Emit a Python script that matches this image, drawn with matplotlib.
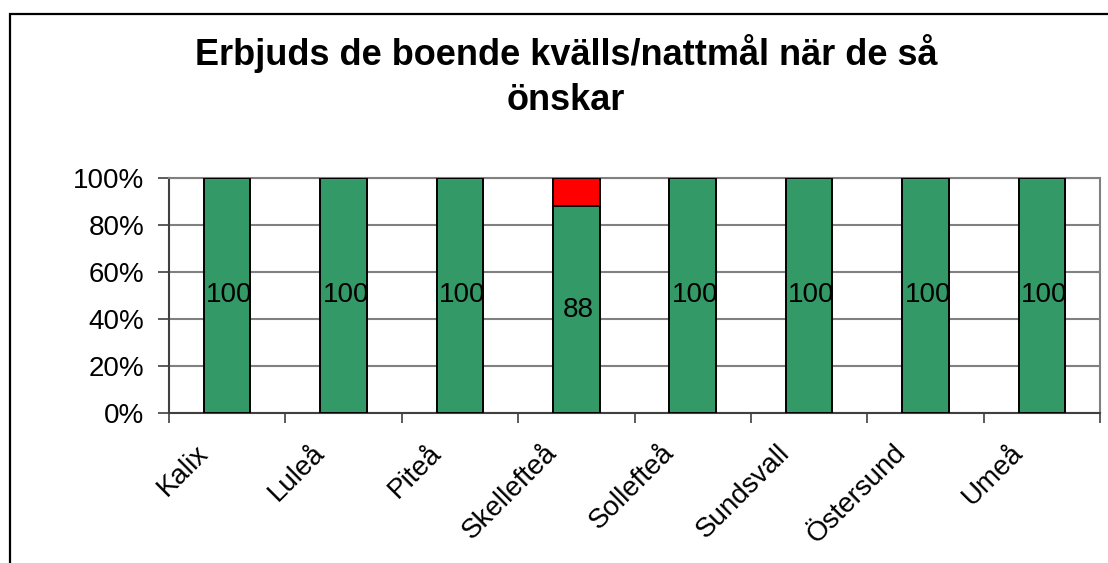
import numpy as np
import matplotlib.pyplot as plt
from matplotlib.patches import Rectangle
from matplotlib.transforms import ScaledTranslation

plt.rcParams['font.family'] = ['Liberation Sans', 'DejaVu Sans']

orter = ["Kalix", "Luleå", "Piteå", "Skellefteå", "Sollefteå", "Sundsvall", "Östersund", "Umeå"]
ja = [100, 100, 100, 88, 100, 100, 100, 100]
nej = [0, 0, 0, 12, 0, 0, 0, 0]
titel = ["Erbjuds de boende kvälls/nattmål när de så", "önskar"]

fig = plt.figure(figsize=(11.08, 5.63), dpi=100)

# ram runt hela diagrammet
fig.patches.append(Rectangle((9.5 / 1108, -0.1), 1.2, 1 - 14 / 563 + 0.1,
                             transform=fig.transFigure, fill=False,
                             edgecolor="black", linewidth=1.6))

ax = fig.add_axes([169 / 1108, 1 - 413 / 563, 931 / 1108, 235 / 563])

x = np.arange(len(orter))
ja_andel = np.array(ja) / 100
nej_andel = np.array(nej) / 100
ax.bar(x, ja_andel, width=0.4, color="#339966", edgecolor="black", linewidth=1.4, zorder=3)
ax.bar(x, nej_andel, width=0.4, bottom=ja_andel, color="#ff0000", edgecolor="black",
       linewidth=1.4, zorder=3)

for xi, v in zip(x, ja):
    ax.text(xi + 0.02, v / 200, str(v), ha="center", va="center", fontsize=20, zorder=4)

ax.set_xlim(-0.5, len(orter) - 0.5)
ax.set_ylim(0, 1)
yt = np.arange(0, 1.01, 0.2)
ax.set_yticks(yt)
ax.set_yticklabels([f"{int(round(t * 100))}%" for t in yt], fontsize=20)
ax.yaxis.grid(True, color="#808080", linewidth=1.5, zorder=0)

# tickmarks mellan kategorierna
ax.set_xticks(np.arange(-0.5, len(orter), 1))
ax.set_xticklabels([])
ax.tick_params(axis="x", length=7, width=1.2, color="#404040")
ax.tick_params(axis="y", length=8, width=1.2, color="#404040", pad=10)

# kategorinamn, snett under staplarna
forskj = ax.get_xaxis_transform() + ScaledTranslation(-0.23, -0.36, fig.dpi_scale_trans)
for xi, namn in zip(x, orter):
    ax.text(xi, 0, namn, transform=forskj, rotation=45, ha="right", va="center",
            rotation_mode="anchor", fontsize=20, clip_on=False)

for side in ["left", "bottom"]:
    ax.spines[side].set_color("#404040")
    ax.spines[side].set_linewidth(1.5)
for side in ["top", "right"]:
    ax.spines[side].set_color("#808080")
    ax.spines[side].set_linewidth(1.5)

fig.text(566 / 1108, 1 - 65 / 563, titel[0], ha="center", va="baseline",
         fontsize=26, fontweight="bold")
fig.text(566 / 1108, 1 - 110 / 563, titel[1], ha="center", va="baseline",
         fontsize=26, fontweight="bold")

fig.savefig("out.png", dpi=100)
